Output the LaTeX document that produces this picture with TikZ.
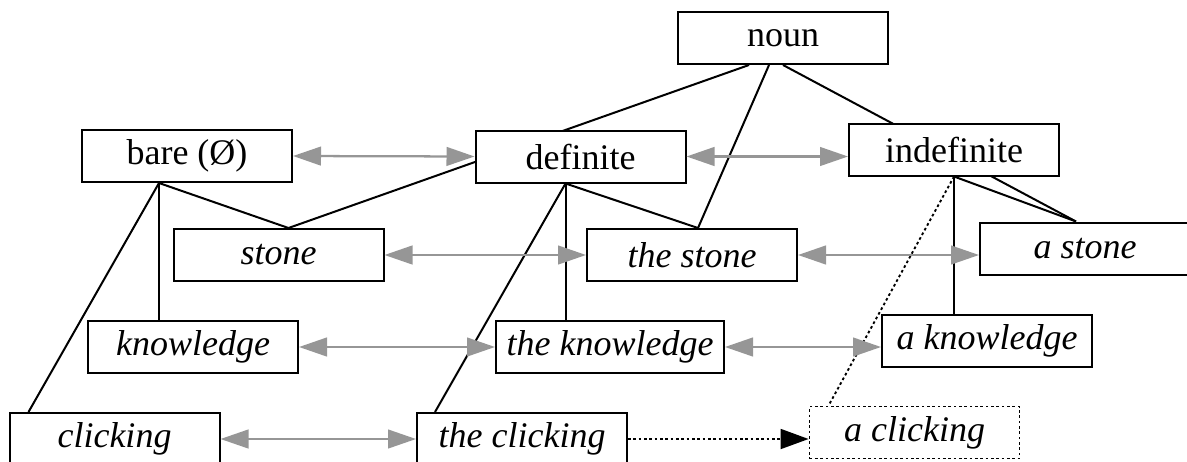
\documentclass[tikz,border=0pt]{standalone}
\usepackage{fontspec}
\setmainfont{Liberation Serif}
\usetikzlibrary{arrows.meta,calc,backgrounds}
\definecolor{relgray}{RGB}{150,150,150}
\begin{document}
\begin{tikzpicture}[x=0.75pt,y=-0.75pt,
  box/.style={draw,line width=1.5pt,fill=white,minimum width=157.5pt,minimum height=39pt,inner sep=0pt,font=\fontsize{27}{30}\selectfont},
  ibox/.style={box,font=\fontsize{27}{30}\selectfont\itshape},
  link/.style={line width=1.5pt},
  dotlink/.style={line width=1.4pt,dash pattern=on 2pt off 2pt},
  rel/.style={draw=relgray,line width=1.7pt,{Triangle[length=21pt,width=14pt]}-{Triangle[length=21pt,width=14pt]}},
  drel/.style={line width=1.4pt,dash pattern=on 2pt off 2pt,-{Triangle[length=21pt,width=15pt]}}
]
\useasboundingbox (0,0) rectangle (1187,461);

\node[box] (noun) at (783,38) {noun};
\node[box] (bare) at (187,156) {bare (Ø)};
\node[box] (def) at (580.5,156.5) {definite};
\node[box] (indef) at (954,149.5) {indefinite};

\node[ibox] (stone) at (278.5,255) {stone};
\node[ibox] (thestone) at (692,255) {the stone};
\node[ibox] (astone) at (1085,248.5) {a stone};

\node[ibox] (know) at (193,347) {knowledge};
\node[ibox,minimum width=171pt] (theknow) at (610,347) {the knowledge};
\node[ibox] (aknow) at (987,340.5) {a knowledge};

\node[ibox] (click) at (114.5,439) {clicking};
\node[ibox] (theclick) at (522,439) {the clicking};
\node[ibox,dotlink] (aclick) at (914.5,432.5) {a clicking};

\coordinate (bareb) at ($(bare.south west)+(78,0)$);
\coordinate (defb) at ($(def.south west)+(91,0)$);
\coordinate (indefb) at (indef.south);

\begin{pgfonlayer}{background}
  % noun links
  \draw[link] ($(noun.south west)+(72,0)$) -- ($(stone.north)+(10,0)$);
  \draw[link] ($(noun.south west)+(92,0)$) -- ($(thestone.north)+(6,0)$);
  \draw[link] (noun.south) -- ($(astone.north west)+(97,0)$);
  % bare links
  \draw[link] (bareb) -- ($(stone.north)+(10,0)$);
  \draw[link] (bareb) -- (bareb |- know.north);
  \draw[link] (bareb) -- ($(click.north west)+(20,0)$);
  % definite links
  \draw[link] (defb) -- ($(thestone.north)+(6,0)$);
  \draw[link] (defb) -- (defb |- theknow.north);
  \draw[link] (defb) -- ($(theclick.north west)+(19,0)$);
  % indefinite links
  \draw[link] (indefb) -- ($(astone.north west)+(97,0)$);
  \draw[link] (indefb) -- (indefb |- aknow.north);
  \draw[dotlink] (indefb) -- ($(aclick.north west)+(20,0)$);
\end{pgfonlayer}

% relations
\draw[rel] (bare.east) -- (def.west);
\draw[rel] (def.east) -- (def.east -| indef.west);
\draw[rel] (stone.east) -- (thestone.west);
\draw[rel] (thestone.east) -- (thestone.east -| astone.west);
\draw[rel] (know.east) -- (theknow.west);
\draw[rel] (theknow.east) -- (theknow.east -| aknow.west);
\draw[rel] (click.east) -- (theclick.west);
\draw[drel] (theclick.east) -- (theclick.east -| aclick.west);
\end{tikzpicture}
\end{document}
